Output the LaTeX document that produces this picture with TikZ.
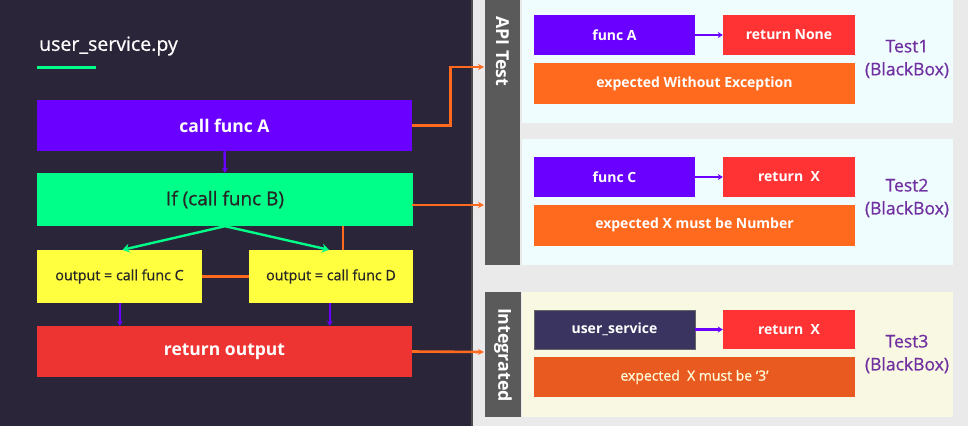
\documentclass[tikz,border=0pt]{standalone}
\usepackage{fontspec}
\setmainfont{Open Sans}
\newfontfamily\medfont{Open Sans}[FakeBold=0.7]
\usetikzlibrary{arrows.meta,calc}
\definecolor{darkbg}{HTML}{2A2539}
\definecolor{lightbg}{HTML}{EAEAEA}
\definecolor{cpurple}{HTML}{6A00FF}
\definecolor{cgreen}{HTML}{00FF88}
\definecolor{cyellow}{HTML}{FFFF40}
\definecolor{cred}{HTML}{EE3333}
\definecolor{cred2}{HTML}{FF3333}
\definecolor{corange}{HTML}{FF6A1F}
\definecolor{corange2}{HTML}{E85A20}
\definecolor{cgreybar}{HTML}{5A5A5A}
\definecolor{cpanel1}{HTML}{F0FDFF}
\definecolor{cpanel3}{HTML}{F9F9E3}
\definecolor{clabel}{HTML}{7030A0}
\definecolor{cnavy}{HTML}{3A3560}
\tikzset{
  box/.style={inner sep=0pt, anchor=center},
  bigbox/.style={box, font=\bfseries\fontsize{17.5}{20}\selectfont},
  smallbox/.style={box, fill=cyellow, text=black!85, font=\medfont\fontsize{14.3}{16}\selectfont},
  rbox/.style={box, font=\bfseries\fontsize{14}{16}\selectfont, text=white},
  tlabel/.style={align=center, text=clabel, font=\medfont\fontsize{17.5}{23}\selectfont},
  bartext/.style={rotate=-90, text=white, font=\bfseries\fontsize{17.8}{18}\selectfont},
  oline/.style={draw=corange, line width=2.6pt},
  oarrow/.style={oline, -{Stealth[length=6pt,width=6pt]}},
  parrow/.style={draw=cpurple, line width=2.4pt, -{Stealth[length=5pt,width=6pt]}},
  garrow/.style={draw=cgreen, line width=2.4pt, -{Stealth[length=7pt,width=9pt]}},
}
\begin{document}
\begin{tikzpicture}[x=1pt,y=-1pt]
\useasboundingbox (0,0) rectangle (968,426);
% backgrounds
\fill[lightbg] (472,0) rectangle (968,426);
\fill[darkbg] (0,0) rectangle (472,426);
\fill[black!70] (471,0) rectangle (473,426);
% panels
\fill[cpanel1] (522,0) rectangle (953,123);
\fill[cpanel1] (522,139) rectangle (953,265);
\fill[cpanel3] (522,292) rectangle (953,417);
\node[box, fill=cgreybar, minimum width=35pt, minimum height=265pt] (apibar) at (502.5,132.5) {};
\node[bartext] (apitext) at (502.5,51.5) {API Test};
\node[box, fill=cgreybar, minimum width=36pt, minimum height=125pt] (intbar) at (503,354.5) {};
\node[bartext] (inttext) at (503,355) {Integrated};
% title
\node[anchor=west, text=white, font=\medfont\fontsize{19.5}{22}\selectfont, inner sep=0pt] (title) at (39,46) {user\_service.py};
\draw[cgreen, line width=3pt] (37,67) -- (96,67);
% left boxes
\node[bigbox, fill=cpurple, text=white, minimum width=375pt, minimum height=51pt] (callA) at (224.5,125.5) {call func A};
\node[bigbox, fill=cgreen, text=black!85, font=\medfont\fontsize{19}{20}\selectfont, minimum width=376pt, minimum height=53pt] (ifB) at (225,199.5) {If (call func B)};
\node[smallbox, minimum width=165pt, minimum height=53pt] (outC) at (119.5,276.5) {output = call func C};
\node[smallbox, minimum width=164pt, minimum height=53pt] (outD) at (331,276.5) {output = call func D};
\node[bigbox, fill=cred, text=white, minimum width=375pt, minimum height=51pt] (ret) at (224.5,351.5) {return output};
% left connectors
\draw[parrow] (callA.south) -- (ifB.north);
\draw[garrow] (ifB.south) -- ($(outC.north)+(3,0)$);
\draw[garrow] (ifB.south) -- ($(outD.north)+(-2,0)$);
\draw[oline] ($(ifB.south west)+(306,0)$) -- ($(outD.north west)+(94,0)$);
\draw[oline] (outC.east) -- (outD.west);
\draw[parrow] ($(outC.south west)+(83,0)$) -- ($(ret.north west)+(83,0)$);
\draw[parrow] ($(outD.south west)+(81,0)$) -- ($(ret.north west)+(293,0)$);
% orange connectors to right
\coordinate (in1) at (484,67);
\coordinate (in2) at (484,205);
\coordinate (in3) at (484,352);
\draw[oarrow] (callA.east) -- ++(38,0) |- (in1);
\draw[oarrow] (callA.east |- in2) -- (in2);
\draw[oarrow] (ret.east) -- (in3);
% Test1
\node[rbox, fill=cpurple, minimum width=161pt, minimum height=40pt] (fA) at (614.5,35) {func A};
\node[rbox, fill=cred2, minimum width=132pt, minimum height=40pt] (rN) at (789,35) {return None};
\node[rbox, fill=corange, minimum width=321pt, minimum height=41pt] (e1) at (694.5,83.5) {expected Without Exception};
\draw[parrow] (fA.east) -- (rN.west);
\node[tlabel] (t1) at (907,59) {Test1\\(BlackBox)};
% Test2
\node[rbox, fill=cpurple, minimum width=161pt, minimum height=40pt] (fC) at (614.5,177) {func C};
\node[rbox, fill=cred2, minimum width=132pt, minimum height=40pt] (rX) at (789,177) {return\ \ X};
\node[rbox, fill=corange, minimum width=321pt, minimum height=41pt] (e2) at (694.5,225) {expected X must be Number};
\draw[parrow] (fC.east) -- (rX.west);
\node[tlabel] (t2) at (907,198) {Test2\\(BlackBox)};
% Test3
\node[rbox, fill=cnavy, draw=black!60, line width=0.6pt, minimum width=161pt, minimum height=39pt] (us) at (614.5,329.5) {user\_service};
\node[rbox, fill=cred2, minimum width=132pt, minimum height=39pt] (rX3) at (789,329.5) {return\ \ X};
\node[rbox, fill=corange2, text=white!85!yellow, font=\medfont\fontsize{14}{16}\selectfont, minimum width=321pt, minimum height=40pt] (e3) at (694.5,377) {expected\ \ X must be ‘3’};
\draw[parrow] (us.east) -- (rX3.west);
\node[tlabel] (t3) at (907,354) {Test3\\(BlackBox)};
\end{tikzpicture}
\end{document}
